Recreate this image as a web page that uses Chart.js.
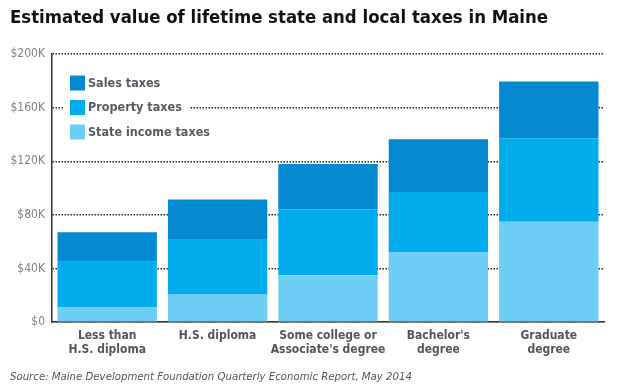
<!DOCTYPE html>
<html>
<head>
<meta charset="utf-8">
<script src="https://cdn.jsdelivr.net/npm/chart.js@4.4.1/dist/chart.umd.min.js"></script>
<style>
html,body{margin:0;padding:0;background:#fff;}
#wrap{position:relative;width:624px;height:390px;}
</style>
</head>
<body>
<div id="wrap"><canvas id="c" width="624" height="390"></canvas></div>
<script>
const categories = [["Less than","H.S. diploma"],["H.S. diploma"],["Some college or","Associate's degree"],["Bachelor's","degree"],["Graduate","degree"]];
const incomeTaxes = [11000, 21000, 35000, 52000, 75000];
const propertyTaxes = [34000, 41000, 49000, 45000, 62000];
const salesTaxes = [22000, 29500, 34000, 39500, 42500];
const yTicks = [0, 40000, 80000, 120000, 160000, 200000];
const titleText = "Estimated value of lifetime state and local taxes in Maine";
const sourceText = "Source: Maine Development Foundation Quarterly Economic Report, May 2014";

const FONT = "'DejaVu Sans Condensed', 'DejaVu Sans', Verdana, sans-serif";

const textsPlugin = {
  id: 'texts',
  afterDraw(chart) {
    const ctx = chart.ctx;
    ctx.save();
    ctx.textBaseline = 'middle';
    ctx.textAlign = 'left';
    ctx.fillStyle = '#111';
    ctx.font = "bold 18.4px " + FONT;
    ctx.fillText(titleText, 10, 18);
    ctx.fillStyle = '#555';
    ctx.font = "italic 11.3px " + FONT;
    ctx.fillText(sourceText, 10, 377);
    ctx.restore();
  }
};

const insideLegend = {
  id: 'insideLegend',
  afterDraw(chart) {
    const ctx = chart.ctx;
    const ds = chart.data.datasets.slice().reverse();
    const x0 = 70, y0 = 83, gap = 24.5, sq = 15;
    ctx.save();
    ctx.font = "bold 12.5px " + FONT;
    ctx.textBaseline = 'middle';
    ds.forEach((d, i) => {
      const y = y0 + i * gap;
      const w = ctx.measureText(d.label).width;
      ctx.fillStyle = '#fff';
      ctx.fillRect(x0 - 7, y - 10, sq + 3 + w + 14, 20);
      ctx.fillStyle = d.backgroundColor;
      ctx.fillRect(x0, y - sq / 2, sq, sq);
      ctx.fillStyle = '#565b63';
      ctx.fillText(d.label, x0 + sq + 3, y + 0.5);
    });
    ctx.restore();
  }
};

new Chart(document.getElementById('c'), {
  type: 'bar',
  data: {
    labels: categories,
    datasets: [
      { label: 'State income taxes', data: incomeTaxes, backgroundColor: '#6dcdf4' },
      { label: 'Property taxes', data: propertyTaxes, backgroundColor: '#00aceb' },
      { label: 'Sales taxes', data: salesTaxes, backgroundColor: '#0289d0' }
    ]
  },
  options: {
    responsive: false,
    animation: false,
    layout: { padding: { left: 0, right: 20, top: 54, bottom: 27 } },
    datasets: { bar: { barPercentage: 0.9, categoryPercentage: 1.0 } },
    plugins: {
      legend: { display: false },
      tooltip: { enabled: false },
      title: { display: false },
      subtitle: { display: false }
    },
    scales: {
      x: {
        stacked: true,
        grid: { display: false, drawTicks: false },
        border: { display: true, color: '#333', width: 1.5 },
        ticks: { color: '#555', font: { family: FONT, size: 12, weight: 'bold' }, padding: 6, maxRotation: 0, autoSkip: false }
      },
      y: {
        stacked: true,
        min: 0, max: 200000,
        z: 1,
        afterFit(s) { s.width = 52; },
        afterBuildTicks(s) { s.ticks = yTicks.map(v => ({ value: v })); },
        grid: { color: '#1c2433', lineWidth: 1.5, drawTicks: false },
        border: { display: true, color: '#333', width: 1.5, dash: [1.5, 1.5] },
        ticks: {
          color: '#808080', font: { family: FONT, size: 12 }, padding: 7,
          callback: v => v === 0 ? '$0' : '$' + (v / 1000) + 'K'
        }
      }
    }
  },
  plugins: [insideLegend, textsPlugin]
});
</script>
</body>
</html>
